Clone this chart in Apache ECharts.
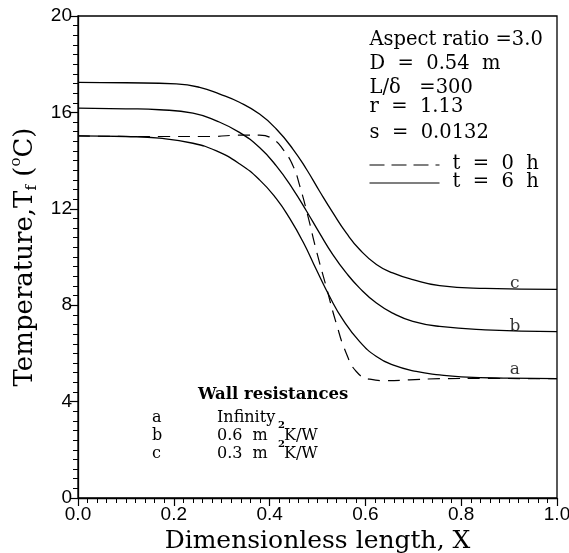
<!DOCTYPE html>
<html><head><meta charset="utf-8">
<script src="https://cdn.jsdelivr.net/npm/echarts@6/dist/echarts.min.js"></script>
<style>html,body{margin:0;padding:0;background:#fff}#c{width:569px;height:553px}</style>
</head><body><div id="c"></div>
<script>
// Curve c (6 h, wall resistance 0.3 m2K/W)
const cX = [0, 0.1, 0.205, 0.254, 0.296, 0.337, 0.379, 0.414, 0.449, 0.477, 0.504, 0.532, 0.56, 0.588, 0.623, 0.657, 0.699, 0.755, 0.85, 1.0];
const cT = [17.25, 17.23, 17.18, 17.04, 16.76, 16.42, 15.93, 15.31, 14.47, 13.64, 12.74, 11.84, 11.0, 10.31, 9.69, 9.34, 9.06, 8.81, 8.7, 8.66];
// Curve b (6 h, wall resistance 0.6 m2K/W)
const bX = [0, 0.1, 0.17, 0.24, 0.289, 0.337, 0.379, 0.414, 0.449, 0.477, 0.504, 0.532, 0.56, 0.588, 0.623, 0.657, 0.699, 0.755, 0.85, 1.0];
const bT = [16.18, 16.15, 16.11, 15.97, 15.65, 15.17, 14.54, 13.78, 12.81, 11.91, 11.0, 10.1, 9.34, 8.71, 8.09, 7.67, 7.33, 7.12, 6.98, 6.9];
// Curve a (6 h, wall resistance infinity)
const aX = [0, 0.1, 0.17, 0.24, 0.289, 0.337, 0.379, 0.414, 0.442, 0.47, 0.497, 0.525, 0.553, 0.588, 0.623, 0.657, 0.706, 0.755, 0.8, 0.9, 1.0];
const aT = [15.03, 15.0, 14.93, 14.72, 14.4, 13.87, 13.2, 12.42, 11.6, 10.62, 9.5, 8.37, 7.4, 6.49, 5.87, 5.52, 5.25, 5.11, 5.03, 4.97, 4.95];
// t = 0 h (dashed)
const dX = [0, 0.1, 0.17, 0.275, 0.344, 0.379, 0.407, 0.428, 0.449, 0.463, 0.48, 0.497, 0.518, 0.539, 0.56, 0.581, 0.609, 0.643, 0.692, 0.755, 0.85, 1.0];
const dT = [15.03, 15.0, 15.0, 15.0, 15.06, 15.06, 14.89, 14.47, 13.78, 12.95, 11.7, 10.31, 8.78, 7.26, 6.01, 5.25, 4.93, 4.87, 4.9, 4.95, 4.96, 4.95];
// curve letters
const letterNames = ['c', 'b', 'a'];
const letterX = [0.912, 0.912, 0.912];
const letterY = [8.9, 7.1, 5.33];
// axis ticks
const xTicks = {min: 0, max: 1, interval: 0.2};
const yTicks = {min: 0, max: 20, interval: 4};

const zip = (xs, ys) => xs.map((x, i) => [x, ys[i]]);
const serif = 'DejaVu Serif';
const sans = 'Liberation Sans';
const lineBase = {type: 'line', showSymbol: false, symbol: 'none', smooth: 0.5, animation: false};
const F = (s) => s + 'px "DejaVu Serif"';

const chart = echarts.init(document.getElementById('c'), null, {renderer: 'canvas'});
chart.setOption({
  backgroundColor: '#fff',
  animation: false,
  grid: {left: 78, right: 12, top: 16, bottom: 55, show: true, borderColor: '#000', borderWidth: 1.3,
         containLabel: false, outerBoundsMode: 'none'},
  xAxis: {
    type: 'value', min: xTicks.min, max: xTicks.max, interval: xTicks.interval,
    name: 'Dimensionless length, X', nameLocation: 'middle', nameGap: 29,
    nameTextStyle: {fontFamily: serif, fontSize: 25, color: '#000'},
    axisLine: {lineStyle: {color: '#000', width: 1.3}},
    axisTick: {inside: false, length: 8, lineStyle: {color: '#000', width: 1.2}},
    minorTick: {show: true, splitNumber: 10, length: 5, lineStyle: {color: '#000', width: 1}},
    splitLine: {show: false},
    axisLabel: {fontFamily: sans, fontSize: 19, color: '#000', margin: 7, formatter: v => v.toFixed(1)}
  },
  yAxis: {
    type: 'value', min: yTicks.min, max: yTicks.max, interval: yTicks.interval,
    name: '{a|Temperature,T}{sub|f}{a| (}{sup|o}{a|C)}', nameLocation: 'middle', nameGap: 30, nameRotate: 90,
    nameTextStyle: {color: '#000', rich: {
      a: {fontFamily: serif, fontSize: 26, color: '#000'},
      sub: {fontFamily: serif, fontSize: 15, color: '#000', padding: [15, 0, 0, 0]},
      sup: {fontFamily: serif, fontSize: 15, color: '#000', padding: [0, 0, 17, 0]}
    }},
    axisLine: {lineStyle: {color: '#000', width: 1.3}},
    axisTick: {inside: false, length: 8, lineStyle: {color: '#000', width: 1.2}},
    minorTick: {show: true, splitNumber: 10, length: 5, lineStyle: {color: '#000', width: 1}},
    splitLine: {show: false},
    axisLabel: {fontFamily: sans, fontSize: 19, color: '#000', margin: 6}
  },
  series: [
    Object.assign({}, lineBase, {name: 'c', data: zip(cX, cT), lineStyle: {color: '#000', width: 1.3}}),
    Object.assign({}, lineBase, {name: 'b', data: zip(bX, bT), lineStyle: {color: '#000', width: 1.3}}),
    Object.assign({}, lineBase, {name: 'a', data: zip(aX, aT), lineStyle: {color: '#000', width: 1.3}}),
    Object.assign({}, lineBase, {name: 't0', data: zip(dX, dT), lineStyle: {color: '#000', width: 1.2, type: [12, 8]}}),
    {type: 'scatter', symbolSize: 0, animation: false, silent: true,
     data: letterNames.map((n, i) => ({name: n, value: [letterX[i], letterY[i]]})),
     label: {show: true, position: 'inside', formatter: p => p.name, fontFamily: serif, fontSize: 17, color: '#000'}}
  ],
  graphic: [
    {type: 'group', left: 367, top: 30, children: [
      {type: 'text', left: 0, top: 0, style: {text: 'Aspect ratio =3.0', font: F(19.5), fill: '#000'}},
      {type: 'text', left: 0, top: 24, style: {text: 'D  =  0.54  m', font: F(19.5), fill: '#000'}},
      {type: 'text', left: 0, top: 48, style: {text: 'L/\u03B4   =300', font: F(19.5), fill: '#000'}},
      {type: 'text', left: 0, top: 67, style: {text: 'r  =  1.13', font: F(19.5), fill: '#000'}},
      {type: 'text', left: 0, top: 93, style: {text: 's  =  0.0132', font: F(19.5), fill: '#000'}},
      {type: 'line', shape: {x1: 0, y1: 135, x2: 70, y2: 135}, style: {stroke: '#000', lineWidth: 1.2, lineDash: [15, 7]}},
      {type: 'line', shape: {x1: 0, y1: 153, x2: 70, y2: 153}, style: {stroke: '#000', lineWidth: 1.2}},
      {type: 'text', left: 83, top: 124, style: {text: 't  =  0  h', font: F(19.5), fill: '#000'}},
      {type: 'text', left: 83, top: 142, style: {text: 't  =  6  h', font: F(19.5), fill: '#000'}}
    ]},
    {type: 'group', left: 152, top: 386, children: [
      {type: 'text', left: 46, top: 0, style: {text: 'Wall resistances', font: 'bold 16.5px "DejaVu Serif"', fill: '#000'}},
      {type: 'text', left: 0, top: 24, style: {text: 'a', font: F(16), fill: '#000'}},
      {type: 'text', left: 0, top: 42, style: {text: 'b', font: F(16), fill: '#000'}},
      {type: 'text', left: 0, top: 60, style: {text: 'c', font: F(16), fill: '#000'}},
      {type: 'text', left: 65, top: 24, style: {text: 'Infinity', font: F(16), fill: '#000'}},
      {type: 'text', left: 65, top: 42, style: {text: '0.6  m', font: F(16), fill: '#000'}},
      {type: 'text', left: 65, top: 60, style: {text: '0.3  m', font: F(16), fill: '#000'}},
      {type: 'text', left: 132, top: 42, style: {text: 'K/W', font: F(16), fill: '#000'}},
      {type: 'text', left: 132, top: 60, style: {text: 'K/W', font: F(16), fill: '#000'}},
      {type: 'text', left: 126, top: 34, style: {text: '2', font: 'bold 10px "DejaVu Serif"', fill: '#000'}},
      {type: 'text', left: 126, top: 53, style: {text: '2', font: 'bold 10px "DejaVu Serif"', fill: '#000'}}
    ]}
  ]
});
</script></body></html>
